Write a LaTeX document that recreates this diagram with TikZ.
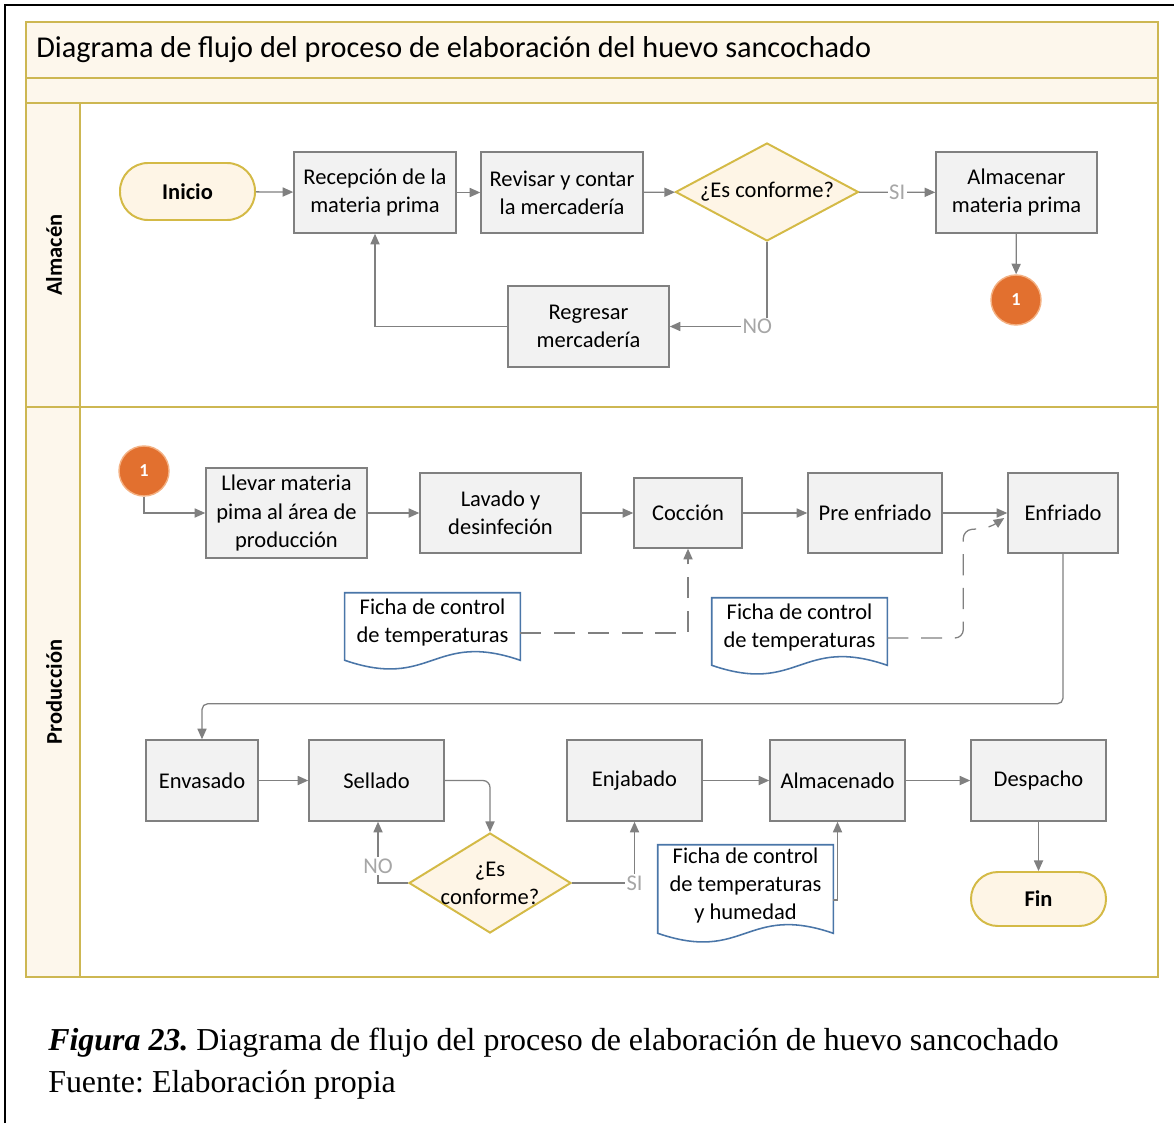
\documentclass[tikz,border=0pt]{standalone}
\usepackage{fontspec}
\setmainfont{Carlito}
\newfontfamily\capfont{Liberation Serif}
\usetikzlibrary{arrows.meta,shapes.geometric,calc}

\definecolor{lanegold}{RGB}{205,183,82}
\definecolor{lanefill}{RGB}{253,247,236}
\definecolor{boxfill}{RGB}{242,242,242}
\definecolor{boxline}{RGB}{128,128,128}
\definecolor{decfill}{RGB}{254,245,230}
\definecolor{decline}{RGB}{212,186,70}
\definecolor{circfill}{RGB}{226,112,47}
\definecolor{circline}{RGB}{244,177,131}
\definecolor{docline}{RGB}{74,118,168}
\definecolor{flowgray}{RGB}{128,128,128}
\definecolor{lblgray}{RGB}{166,166,166}

\frenchspacing
\tikzset{
  sz/.style 2 args={minimum width=#1*0.025cm, minimum height=#2*0.025cm},
  base/.style={inner sep=0pt, align=center, font=\fontsize{16}{20}\selectfont},
  procbox/.style={base, rectangle, draw=boxline, fill=boxfill, line width=1.1pt},
  termbox/.style={base, rectangle, draw=decline, fill=decfill, line width=1.4pt,
    rounded corners=0.7cm, font=\fontsize{16}{20}\selectfont\bfseries},
  decbox/.style={shape=diamond, inner sep=0pt, draw=decline, fill=decfill, line width=1.4pt},
  conn/.style={circle, inner sep=0pt, minimum size=1.25cm, fill=circfill, draw=circline,
    line width=1pt, text=white, font=\fontsize{13}{15}\selectfont\bfseries},
  docbox/.style={base},
  docedge/.style={draw=docline, fill=white, line width=1.1pt},
  flow/.style={draw=flowgray, line width=0.9pt, -{Triangle[length=7.5pt,width=6.5pt]}},
  dashflow/.style={flow, dash pattern=on 15pt off 9pt},
  lbl/.style={fill=white, inner sep=1pt, text=lblgray, font=\fontsize{16}{18}\selectfont},
  lane/.style={draw=lanegold, line width=1.8pt},
}

% document symbol: rectangle whose lower edge is a wave
\newcommand{\docwave}[1]{%
  \path[docedge] (#1.south east) -- (#1.north east) -- (#1.north west) -- (#1.south west)
    .. controls +(87,30) and +(-87,-30) .. (#1.south east) -- cycle;}

\begin{document}
\begin{tikzpicture}[x=0.025cm, y=-0.025cm]
\useasboundingbox (0,0) rectangle (1174,1123);

% page frame
\draw[line width=1.6pt] (5,1123) -- (5,5) -- (1174,5);

% swimlane frame
\fill[white] (26,22) rectangle (1158,977);
\fill[lanefill] (26,22) rectangle (1158,103);
\fill[lanefill] (26,103) rectangle (80,977);
\draw[lane] (26,22) rectangle (1158,977);
\draw[lane] (26,78) -- (1158,78);
\draw[lane] (26,103) -- (1158,103);
\draw[lane] (26,407) -- (1158,407);
\draw[lane] (80,103) -- (80,977);

\node[anchor=west, inner sep=0pt, font=\fontsize{21.5}{25}\selectfont] (title) at (36,50)
  {Diagrama de flujo del proceso de elaboración del huevo sancochado};
\node[rotate=90, font=\fontsize{16}{20}\selectfont\bfseries] (lanealm) at (54,255) {Almacén};
\node[rotate=90, font=\fontsize{16}{20}\selectfont\bfseries] (laneprod) at (54,692) {Producción};

% ---- Almacén ----
\node[termbox, sz={135}{57}] (inicio) at (187.5,191.5) {Inicio};
\node[procbox, sz={162}{81}] (recep) at (375,192.5) {Recepción de la\\materia prima};
\node[procbox, sz={162}{81}] (revisar) at (562,192.5) {Revisar y contar\\la mercadería};
\node[decbox, sz={183}{98}] (dec1) at (767,192) {};
\node[base] (dec1t) at (dec1.center) {¿Es conforme?};
\node[procbox, sz={161}{81}] (almac) at (1016.5,192.5) {Almacenar\\materia prima};
\node[conn] (link1a) at (1016,300) {1};
\node[procbox, sz={161}{81}] (regresar) at (588.5,326.5) {Regresar\\mercadería};

\draw[flow] (inicio) -- (recep);
\draw[flow] (recep) -- (revisar);
\draw[flow] (revisar) -- (dec1);
\draw[flow] (dec1) -- node[lbl]{SI} (almac);
\draw[flow] (almac) -- (link1a);
\draw[flow] (dec1.south) |- node[lbl, pos=0.55]{NO} (regresar.east);
\draw[flow] (regresar.west) -| (recep.south);

% ---- Producción ----
\node[conn] (link1b) at (144,471) {1};
\node[procbox, sz={161}{90}] (llevar) at (286.5,513) {Llevar materia\\pima al área de\\producción};
\node[procbox, sz={161}{80}] (lavado) at (500.5,513) {Lavado y\\desinfeción};
\node[procbox, sz={108}{70}] (coccion) at (688,513) {Cocción};
\node[procbox, sz={134}{80}] (preenf) at (875,513) {Pre enfriado};
\node[procbox, sz={110}{80}] (enfriado) at (1063,513) {Enfriado};

\node[docbox, sz={175}{67}] (doc1) at (432.5,626.5) {};
\docwave{doc1}
\node[base] (doc1t) at ($(doc1.north)+(0,30)$) {Ficha de control\\de temperaturas};
\node[docbox, sz={175}{67}] (doc2) at (799.5,631.5) {};
\docwave{doc2}
\node[base] (doc2t) at ($(doc2.north)+(0,30)$) {Ficha de control\\de temperaturas};

\draw[flow] (link1b.south) |- (llevar.west);
\draw[flow] (llevar) -- (lavado);
\draw[flow] (lavado) -- (coccion);
\draw[flow] (coccion) -- (preenf);
\draw[flow] (preenf) -- (enfriado);
\draw[dashflow] ($(doc1.east)+(0,6.5)$) -| (coccion.south);
\draw[dashflow, rounded corners=6pt] ($(doc2.east)+(0,6.5)$) -- ++(76,0) -- ++(0,-108)
  -- ++(26,-2) -- ($(enfriado.west)+(-3,5)$);

\node[procbox, sz={112}{81}] (envasado) at (202,780.5) {Envasado};
\node[procbox, sz={135}{81}] (sellado) at (376.5,780.5) {Sellado};
\node[decbox, sz={162}{100}] (dec2) at (490,883) {};
\node[base] (dec2t) at (dec2.center) {¿Es\\conforme?};
\node[procbox, sz={135}{81}] (enjabado) at (634.5,780.5) {Enjabado};
\node[procbox, sz={135}{81}] (almcn) at (837.5,780.5) {Almacenado};
\node[procbox, sz={135}{81}] (despacho) at (1038.5,780.5) {Despacho};
\node[termbox, sz={135}{54}, rounded corners=0.67cm] (fin) at (1038.5,899) {Fin};

\node[docbox, sz={175}{88}] (doc3) at (745.5,889) {};
\docwave{doc3}
\node[base] (doc3t) at ($(doc3.north)+(0,41)$) {Ficha de control\\de temperaturas\\y humedad};

\draw[flow, rounded corners=4pt] (enfriado.south) -- ++(0,150) -| (envasado.north);
\draw[flow] (envasado) -- (sellado);
\draw[flow, rounded corners=5pt] (sellado.east) -| (dec2.north);
\draw[flow] (dec2.west) -| node[lbl, pos=0.64]{NO} ($(sellado.south)+(1.5,0)$);
\draw[flow] (dec2.east) -| node[lbl, pos=0.5]{SI} (enjabado.south);
\draw[flow] (enjabado) -- (almcn);
\draw[flow] (almcn) -- (despacho);
\draw[flow] ($(doc3.east)+(0,11)$) -| (almcn.south);
\draw[flow] (despacho) -- (fin);

% caption
\node[anchor=west, inner sep=0pt, font=\capfont\fontsize{22.7}{27}\selectfont] (cap1) at (48,1043)
  {\textbf{\textit{Figura 23.}} Diagrama de flujo del proceso de elaboración de huevo sancochado};
\node[anchor=west, inner sep=0pt, font=\capfont\fontsize{22.7}{27}\selectfont] (cap2) at (48,1085)
  {Fuente: Elaboración propia};
\end{tikzpicture}
\end{document}
